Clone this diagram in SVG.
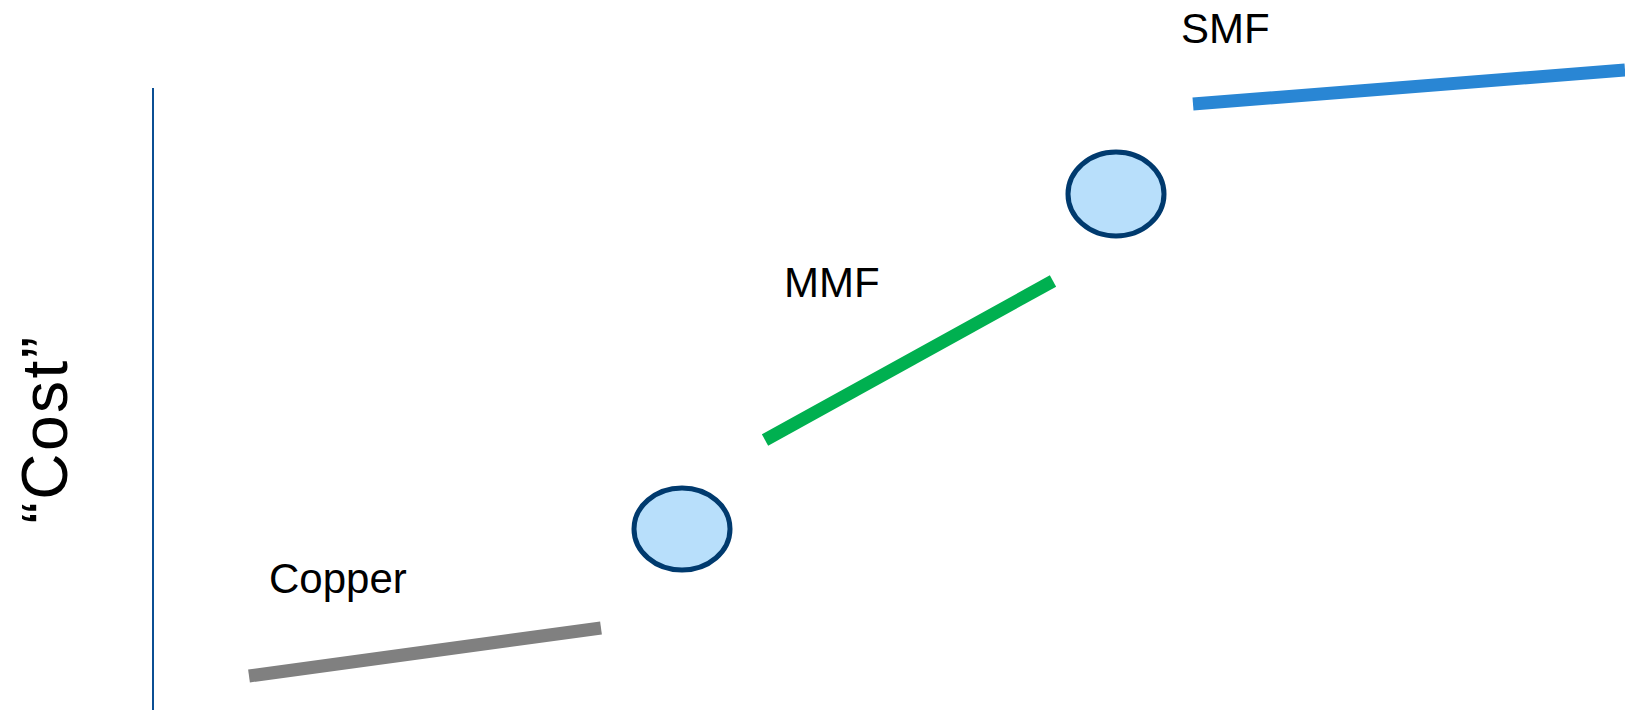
<svg xmlns="http://www.w3.org/2000/svg" width="1625" height="710" viewBox="0 0 1625 710">
<style>
.lbl{font-family:"Liberation Sans",Arial,sans-serif;font-size:42px;fill:#000}
.seg{stroke-width:13;fill:none;stroke-linecap:butt}
.node{fill:#b8dffb;stroke:#003a6e;stroke-width:5}
</style>
<rect width="1625" height="710" fill="#fff"/>
<g id="axis">
<line x1="153" y1="88" x2="153" y2="710" stroke="#0b4f94" stroke-width="2"/>
<text class="lbl" style="font-size:64px;letter-spacing:2.5px" text-anchor="middle" transform="translate(67,429) rotate(-90)">“Cost”</text>
</g>
<g id="connectors">
<line class="seg" x1="249" y1="676" x2="601" y2="628" stroke="#808080"/>
<line class="seg" x1="765" y1="440" x2="1053" y2="281" stroke="#00b050"/>
<line class="seg" x1="1193" y1="104" x2="1625" y2="70" stroke="#2986d4"/>
</g>
<g id="copper"><text class="lbl" x="269" y="593">Copper</text></g>
<g id="mmf"><text class="lbl" x="784" y="297">MMF</text></g>
<g id="smf"><text class="lbl" x="1181" y="43">SMF</text></g>
<g id="node1"><ellipse class="node" cx="682" cy="529" rx="48" ry="41"/></g>
<g id="node2"><ellipse class="node" cx="1116" cy="194" rx="48" ry="42"/></g>
</svg>
